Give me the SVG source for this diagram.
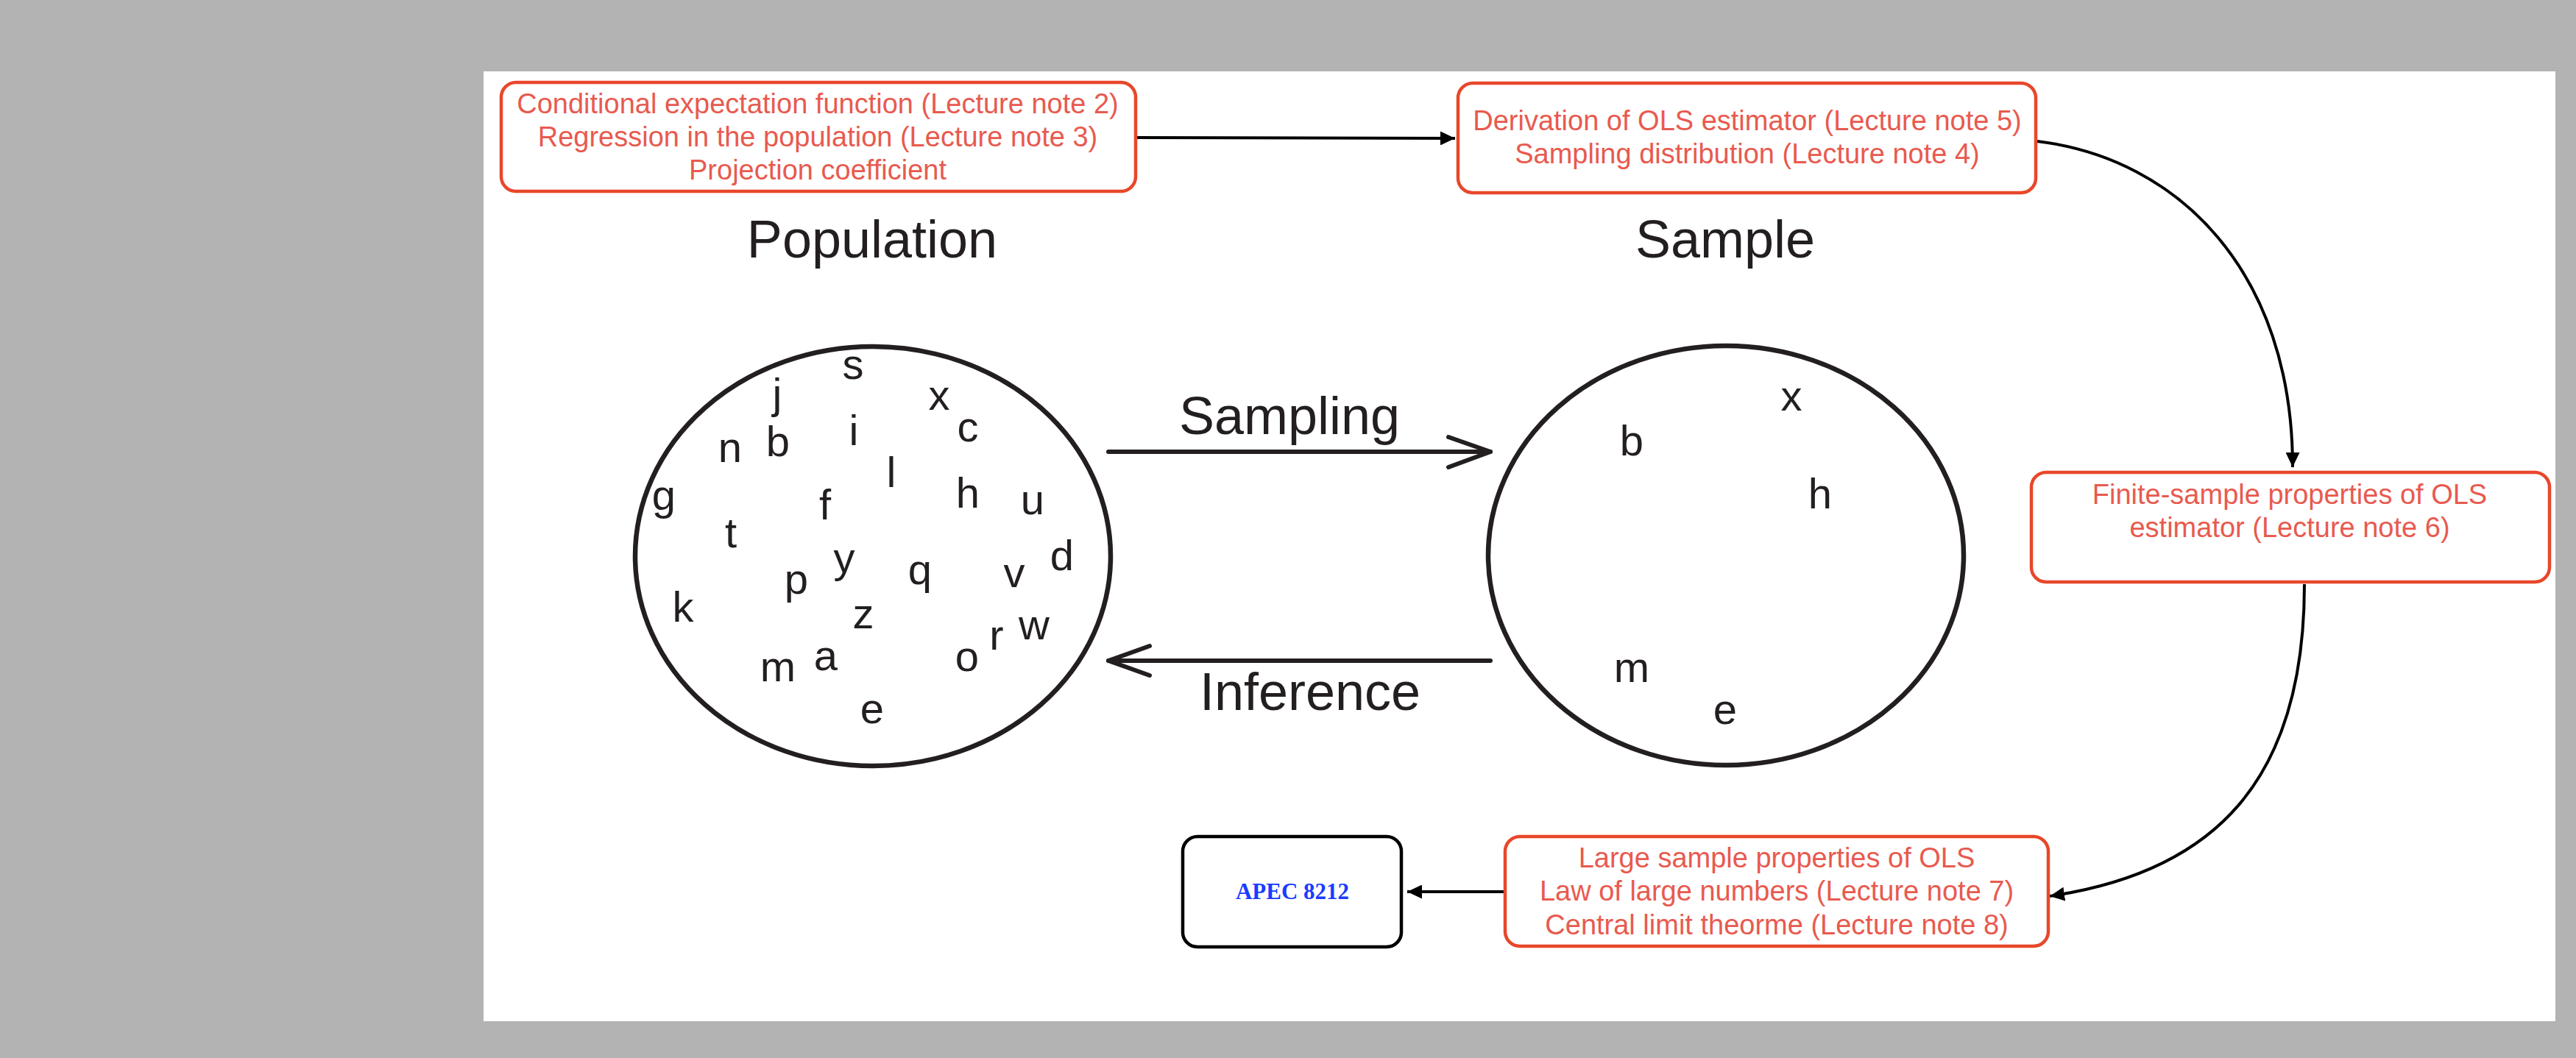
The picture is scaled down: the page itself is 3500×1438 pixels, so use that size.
<svg xmlns="http://www.w3.org/2000/svg" width="3500" height="1438" viewBox="0 0 3500 1438">
  <style>
    .red { fill: #ffffff; stroke: #e8472b; stroke-width: 4.5; }
    .rt { font-family: "Liberation Sans", Arial, sans-serif; font-size: 38px; fill: #e85a4f; text-anchor: middle; }
    .lt { font-family: "Liberation Sans", Arial, sans-serif; font-size: 58px; fill: #231f20; text-anchor: middle; }
    .big { font-family: "Liberation Sans", Arial, sans-serif; font-size: 72px; fill: #231f20; text-anchor: middle; }
    .ell { fill: none; stroke: #231f20; stroke-width: 6.5; }
    .conn { fill: none; stroke: #000000; stroke-width: 4; }
    .thick { fill: none; stroke: #231f20; stroke-width: 6; stroke-linecap: round; stroke-linejoin: round; }
  </style>
  <defs>
    <marker id="tri" markerUnits="userSpaceOnUse" markerWidth="20" markerHeight="19" refX="20" refY="9.5" orient="auto" viewBox="0 0 20 19">
      <path d="M0,0 L20,9.5 L0,19 z" fill="#000000"/>
    </marker>
  </defs>
  <rect x="0" y="0" width="3500" height="1438" fill="#b3b3b3"/>
  <rect x="657" y="97" width="2815" height="1291" fill="#ffffff"/>

  <g id="connectors">
    <path class="conn" d="M1544,187 L1977,188" marker-end="url(#tri)"/>
    <path class="conn" d="M2768,192 C2960,215 3115,370 3115,635" marker-end="url(#tri)"/>
    <path class="conn" d="M3131,794 C3131,1060 3010,1185 2785,1218" marker-end="url(#tri)"/>
    <path class="conn" d="M2045,1212 L1912,1212" marker-end="url(#tri)"/>
    <g id="sampling-arrow">
      <line class="thick" x1="1506" y1="614" x2="2025" y2="614"/>
      <polyline class="thick" points="1968,594 2025,614 1968,635"/>
      <text class="big" x="1752" y="590">Sampling</text>
    </g>
    <g id="inference-arrow">
      <line class="thick" x1="2025" y1="898" x2="1506" y2="898"/>
      <polyline class="thick" points="1562,878 1506,898 1562,918"/>
      <text class="big" x="1780" y="965">Inference</text>
    </g>
  </g>

  <g id="box-population-topics">
    <rect class="red" x="681" y="112" width="862" height="148" rx="20"/>
    <text class="rt" x="1111" y="154">Conditional expectation function (Lecture note 2)</text>
    <text class="rt" x="1111" y="199">Regression in the population (Lecture note 3)</text>
    <text class="rt" x="1111" y="244">Projection coefficient</text>
  </g>

  <g id="box-ols-derivation">
    <rect class="red" x="1981" y="113" width="785" height="149" rx="20"/>
    <text class="rt" x="2374" y="177">Derivation of OLS estimator (Lecture note 5)</text>
    <text class="rt" x="2374" y="222">Sampling distribution (Lecture note 4)</text>
  </g>

  <g id="box-finite-sample">
    <rect class="red" x="2760" y="642" width="704" height="149" rx="20"/>
    <text class="rt" x="3111" y="685">Finite-sample properties of OLS</text>
    <text class="rt" x="3111" y="730">estimator (Lecture note 6)</text>
  </g>

  <g id="box-large-sample">
    <rect class="red" x="2045" y="1137" width="738" height="149" rx="20"/>
    <text class="rt" x="2414" y="1179">Large sample properties of OLS</text>
    <text class="rt" x="2414" y="1224">Law of large numbers (Lecture note 7)</text>
    <text class="rt" x="2414" y="1270">Central limit theorme (Lecture note 8)</text>
  </g>

  <g id="box-apec">
    <rect x="1607" y="1137" width="297" height="150" rx="20" fill="#ffffff" stroke="#000000" stroke-width="4.5"/>
    <text x="1756" y="1222" font-family="'Liberation Serif', 'Times New Roman', serif" font-weight="bold" font-size="31" fill="#1a3cff" text-anchor="middle">APEC 8212</text>
  </g>

  <g id="population">
    <text class="big" x="1185" y="350">Population</text>
    <ellipse class="ell" cx="1186" cy="756" rx="323" ry="285"/>
    <text class="lt" x="1159" y="515">s</text>
    <text class="lt" x="1056" y="555">j</text>
    <text class="lt" x="1276" y="557">x</text>
    <text class="lt" x="1315" y="600">c</text>
    <text class="lt" x="992" y="628">n</text>
    <text class="lt" x="1057" y="620">b</text>
    <text class="lt" x="1160" y="605">i</text>
    <text class="lt" x="1211" y="662">l</text>
    <text class="lt" x="902" y="693">g</text>
    <text class="lt" x="1121" y="706">f</text>
    <text class="lt" x="1315" y="690">h</text>
    <text class="lt" x="1403" y="699">u</text>
    <text class="lt" x="993" y="744">t</text>
    <text class="lt" x="1147" y="778">y</text>
    <text class="lt" x="1082" y="807">p</text>
    <text class="lt" x="1250" y="794">q</text>
    <text class="lt" x="1378" y="798">v</text>
    <text class="lt" x="1443" y="775">d</text>
    <text class="lt" x="928" y="845">k</text>
    <text class="lt" x="1173" y="854">z</text>
    <text class="lt" x="1354" y="883">r</text>
    <text class="lt" x="1405" y="869">w</text>
    <text class="lt" x="1122" y="911">a</text>
    <text class="lt" x="1057" y="926">m</text>
    <text class="lt" x="1314" y="912">o</text>
    <text class="lt" x="1185" y="983">e</text>
  </g>

  <g id="sample">
    <text class="big" x="2344" y="350">Sample</text>
    <ellipse class="ell" cx="2345" cy="755" rx="323" ry="285"/>
    <text class="lt" x="2434" y="558">x</text>
    <text class="lt" x="2217" y="619">b</text>
    <text class="lt" x="2473" y="691">h</text>
    <text class="lt" x="2217" y="927">m</text>
    <text class="lt" x="2344" y="984">e</text>
  </g>
</svg>
